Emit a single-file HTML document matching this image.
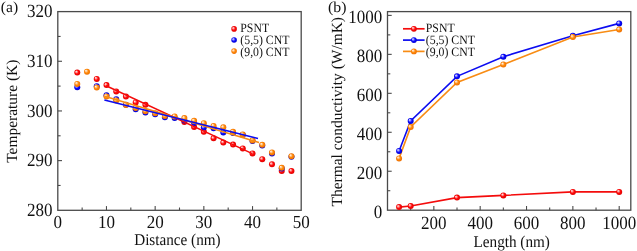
<!DOCTYPE html>
<html><head><meta charset="utf-8"><style>
html,body{margin:0;padding:0;background:#fff;width:637px;height:251px;overflow:hidden}
svg{display:block;will-change:transform}
text{font-family:"Liberation Serif", serif;fill:#111;text-rendering:geometricPrecision}
</style></head><body>
<svg width="637" height="251" viewBox="0 0 637 251">
<defs>
<radialGradient id="gr" cx="0.5" cy="0.5" r="0.55" fx="0.3" fy="0.3"><stop offset="0" stop-color="#ffffff"/><stop offset="0.3" stop-color="#ff8080"/><stop offset="0.55" stop-color="#ff0a0a"/><stop offset="1" stop-color="#d80000"/></radialGradient>
<radialGradient id="gb" cx="0.5" cy="0.5" r="0.55" fx="0.3" fy="0.3"><stop offset="0" stop-color="#ffffff"/><stop offset="0.3" stop-color="#8080ff"/><stop offset="0.55" stop-color="#0a0aff"/><stop offset="1" stop-color="#0000c8"/></radialGradient>
<radialGradient id="go" cx="0.5" cy="0.5" r="0.55" fx="0.3" fy="0.3"><stop offset="0" stop-color="#ffffff"/><stop offset="0.3" stop-color="#ffc080"/><stop offset="0.55" stop-color="#ff8a08"/><stop offset="1" stop-color="#ea6a00"/></radialGradient>
</defs>
<line x1="82.14" y1="210.3" x2="82.14" y2="207.5" stroke="#4a4a4a" stroke-width="1.1"/>
<line x1="106.48" y1="210.3" x2="106.48" y2="206.1" stroke="#4a4a4a" stroke-width="1.1"/>
<line x1="130.82" y1="210.3" x2="130.82" y2="207.5" stroke="#4a4a4a" stroke-width="1.1"/>
<line x1="155.16" y1="210.3" x2="155.16" y2="206.1" stroke="#4a4a4a" stroke-width="1.1"/>
<line x1="179.5" y1="210.3" x2="179.5" y2="207.5" stroke="#4a4a4a" stroke-width="1.1"/>
<line x1="203.84" y1="210.3" x2="203.84" y2="206.1" stroke="#4a4a4a" stroke-width="1.1"/>
<line x1="228.18" y1="210.3" x2="228.18" y2="207.5" stroke="#4a4a4a" stroke-width="1.1"/>
<line x1="252.52" y1="210.3" x2="252.52" y2="206.1" stroke="#4a4a4a" stroke-width="1.1"/>
<line x1="276.86" y1="210.3" x2="276.86" y2="207.5" stroke="#4a4a4a" stroke-width="1.1"/>
<line x1="57.8" y1="185.46" x2="60.6" y2="185.46" stroke="#4a4a4a" stroke-width="1.1"/>
<line x1="57.8" y1="160.62" x2="62" y2="160.62" stroke="#4a4a4a" stroke-width="1.1"/>
<line x1="57.8" y1="135.79" x2="60.6" y2="135.79" stroke="#4a4a4a" stroke-width="1.1"/>
<line x1="57.8" y1="110.95" x2="62" y2="110.95" stroke="#4a4a4a" stroke-width="1.1"/>
<line x1="57.8" y1="86.11" x2="60.6" y2="86.11" stroke="#4a4a4a" stroke-width="1.1"/>
<line x1="57.8" y1="61.27" x2="62" y2="61.27" stroke="#4a4a4a" stroke-width="1.1"/>
<line x1="57.8" y1="36.44" x2="60.6" y2="36.44" stroke="#4a4a4a" stroke-width="1.1"/>
<rect x="57.8" y="11.6" width="243.4" height="198.7" fill="none" stroke="#4a4a4a" stroke-width="1.3"/>
<text transform="translate(57.8 228) scale(1 1.08)" font-size="17" text-anchor="middle">0</text>
<text transform="translate(106.48 228) scale(1 1.08)" font-size="17" text-anchor="middle">10</text>
<text transform="translate(155.16 228) scale(1 1.08)" font-size="17" text-anchor="middle">20</text>
<text transform="translate(203.84 228) scale(1 1.08)" font-size="17" text-anchor="middle">30</text>
<text transform="translate(252.52 228) scale(1 1.08)" font-size="17" text-anchor="middle">40</text>
<text transform="translate(301.2 228) scale(1 1.08)" font-size="17" text-anchor="middle">50</text>
<text transform="translate(52.6 216.1) scale(1 1.1)" font-size="17" text-anchor="end">280</text>
<text transform="translate(52.6 166.43) scale(1 1.1)" font-size="17" text-anchor="end">290</text>
<text transform="translate(52.6 116.75) scale(1 1.1)" font-size="17" text-anchor="end">300</text>
<text transform="translate(52.6 67.07) scale(1 1.1)" font-size="17" text-anchor="end">310</text>
<text transform="translate(52.6 17.4) scale(1 1.1)" font-size="17" text-anchor="end">320</text>
<text transform="translate(177.4 245) scale(1 1.08)" font-size="15.2" text-anchor="middle">Distance (nm)</text>
<text transform="translate(17 111.2) rotate(-90) scale(1.0 1)" font-size="15.45" text-anchor="middle">Temperature (K)</text>
<text transform="translate(0.8 12) scale(1 0.98)" font-size="15.6">(a)</text>
<circle cx="77.27" cy="72.6" r="3.0" fill="url(#gr)"/>
<circle cx="96.74" cy="78.9" r="3.0" fill="url(#gr)"/>
<circle cx="106.48" cy="85.1" r="3.0" fill="url(#gr)"/>
<circle cx="116.22" cy="91.4" r="3.0" fill="url(#gr)"/>
<circle cx="125.95" cy="96.6" r="3.0" fill="url(#gr)"/>
<circle cx="135.69" cy="102.4" r="3.0" fill="url(#gr)"/>
<circle cx="145.42" cy="104.8" r="3.0" fill="url(#gr)"/>
<circle cx="184.37" cy="121.9" r="3.0" fill="url(#gr)"/>
<circle cx="194.1" cy="126.9" r="3.0" fill="url(#gr)"/>
<circle cx="203.84" cy="131.8" r="3.0" fill="url(#gr)"/>
<circle cx="213.58" cy="138.3" r="3.0" fill="url(#gr)"/>
<circle cx="223.31" cy="142.6" r="3.0" fill="url(#gr)"/>
<circle cx="233.05" cy="144.6" r="3.0" fill="url(#gr)"/>
<circle cx="242.78" cy="148.4" r="3.0" fill="url(#gr)"/>
<circle cx="252.52" cy="153.4" r="3.0" fill="url(#gr)"/>
<circle cx="262.26" cy="159.2" r="3.0" fill="url(#gr)"/>
<circle cx="271.99" cy="164.3" r="3.0" fill="url(#gr)"/>
<circle cx="281.73" cy="171" r="3.0" fill="url(#gr)"/>
<circle cx="291.46" cy="171" r="3.0" fill="url(#gr)"/>
<circle cx="77.27" cy="87.3" r="3.0" fill="url(#gb)"/>
<circle cx="96.74" cy="86.2" r="3.0" fill="url(#gb)"/>
<circle cx="106.48" cy="95.3" r="3.0" fill="url(#gb)"/>
<circle cx="116.22" cy="99.2" r="3.0" fill="url(#gb)"/>
<circle cx="125.95" cy="104.8" r="3.0" fill="url(#gb)"/>
<circle cx="135.69" cy="109.2" r="3.0" fill="url(#gb)"/>
<circle cx="145.42" cy="112.4" r="3.0" fill="url(#gb)"/>
<circle cx="155.16" cy="114.3" r="3.0" fill="url(#gb)"/>
<circle cx="164.9" cy="117.3" r="3.0" fill="url(#gb)"/>
<circle cx="174.63" cy="118" r="3.0" fill="url(#gb)"/>
<circle cx="184.37" cy="120.5" r="3.0" fill="url(#gb)"/>
<circle cx="194.1" cy="123" r="3.0" fill="url(#gb)"/>
<circle cx="203.84" cy="127.5" r="3.0" fill="url(#gb)"/>
<circle cx="213.58" cy="128.3" r="3.0" fill="url(#gb)"/>
<circle cx="223.31" cy="132.4" r="3.0" fill="url(#gb)"/>
<circle cx="233.05" cy="133" r="3.0" fill="url(#gb)"/>
<circle cx="242.78" cy="135" r="3.0" fill="url(#gb)"/>
<circle cx="252.52" cy="141" r="3.0" fill="url(#gb)"/>
<circle cx="262.26" cy="145.4" r="3.0" fill="url(#gb)"/>
<circle cx="271.99" cy="153.5" r="3.0" fill="url(#gb)"/>
<circle cx="281.73" cy="168.4" r="3.0" fill="url(#gb)"/>
<circle cx="291.46" cy="156.8" r="3.0" fill="url(#gb)"/>
<circle cx="77.27" cy="83.9" r="3.0" fill="url(#go)"/>
<circle cx="87.01" cy="71.7" r="3.0" fill="url(#go)"/>
<circle cx="96.74" cy="87.5" r="3.0" fill="url(#go)"/>
<circle cx="106.48" cy="96.4" r="3.0" fill="url(#go)"/>
<circle cx="116.22" cy="100.4" r="3.0" fill="url(#go)"/>
<circle cx="125.95" cy="104.9" r="3.0" fill="url(#go)"/>
<circle cx="135.69" cy="108" r="3.0" fill="url(#go)"/>
<circle cx="145.42" cy="111.2" r="3.0" fill="url(#go)"/>
<circle cx="155.16" cy="113.2" r="3.0" fill="url(#go)"/>
<circle cx="164.9" cy="116" r="3.0" fill="url(#go)"/>
<circle cx="174.63" cy="116.4" r="3.0" fill="url(#go)"/>
<circle cx="184.37" cy="118.1" r="3.0" fill="url(#go)"/>
<circle cx="194.1" cy="120.8" r="3.0" fill="url(#go)"/>
<circle cx="203.84" cy="123.2" r="3.0" fill="url(#go)"/>
<circle cx="213.58" cy="126" r="3.0" fill="url(#go)"/>
<circle cx="223.31" cy="127.3" r="3.0" fill="url(#go)"/>
<circle cx="233.05" cy="131.8" r="3.0" fill="url(#go)"/>
<circle cx="242.78" cy="134.4" r="3.0" fill="url(#go)"/>
<circle cx="252.52" cy="140.4" r="3.0" fill="url(#go)"/>
<circle cx="262.26" cy="144.8" r="3.0" fill="url(#go)"/>
<circle cx="271.99" cy="152.4" r="3.0" fill="url(#go)"/>
<circle cx="281.73" cy="167.8" r="3.0" fill="url(#go)"/>
<circle cx="291.46" cy="156.2" r="3.0" fill="url(#go)"/>
<line x1="106.1" y1="85.7" x2="252.3" y2="153.6" stroke="#f40c0c" stroke-width="1.5"/>
<line x1="104.6" y1="96.3" x2="259" y2="142.5" stroke="#f88c14" stroke-width="1.5"/>
<line x1="104.4" y1="100.0" x2="258" y2="138.4" stroke="#0c0cf0" stroke-width="1.5"/>
<circle cx="234.1" cy="28.9" r="2.8" fill="url(#gr)"/>
<text transform="translate(240.3 32.1) scale(1 1.08)" font-size="11.8">PSNT</text>
<circle cx="234.1" cy="40" r="2.8" fill="url(#gb)"/>
<text transform="translate(240.3 43.8) scale(1 1.08)" font-size="11.8">(5,5) CNT</text>
<circle cx="234.1" cy="51.1" r="2.8" fill="url(#go)"/>
<text transform="translate(240.3 55.8) scale(1 1.08)" font-size="11.8">(9,0) CNT</text>
<line x1="410.67" y1="210.2" x2="410.67" y2="207.4" stroke="#4a4a4a" stroke-width="1.1"/>
<line x1="433.84" y1="210.2" x2="433.84" y2="206" stroke="#4a4a4a" stroke-width="1.1"/>
<line x1="457.01" y1="210.2" x2="457.01" y2="207.4" stroke="#4a4a4a" stroke-width="1.1"/>
<line x1="480.18" y1="210.2" x2="480.18" y2="206" stroke="#4a4a4a" stroke-width="1.1"/>
<line x1="503.35" y1="210.2" x2="503.35" y2="207.4" stroke="#4a4a4a" stroke-width="1.1"/>
<line x1="526.52" y1="210.2" x2="526.52" y2="206" stroke="#4a4a4a" stroke-width="1.1"/>
<line x1="549.69" y1="210.2" x2="549.69" y2="207.4" stroke="#4a4a4a" stroke-width="1.1"/>
<line x1="572.86" y1="210.2" x2="572.86" y2="206" stroke="#4a4a4a" stroke-width="1.1"/>
<line x1="596.03" y1="210.2" x2="596.03" y2="207.4" stroke="#4a4a4a" stroke-width="1.1"/>
<line x1="619.2" y1="210.2" x2="619.2" y2="206" stroke="#4a4a4a" stroke-width="1.1"/>
<line x1="387.5" y1="190.72" x2="390.3" y2="190.72" stroke="#4a4a4a" stroke-width="1.1"/>
<line x1="387.5" y1="171.24" x2="391.7" y2="171.24" stroke="#4a4a4a" stroke-width="1.1"/>
<line x1="387.5" y1="151.76" x2="390.3" y2="151.76" stroke="#4a4a4a" stroke-width="1.1"/>
<line x1="387.5" y1="132.28" x2="391.7" y2="132.28" stroke="#4a4a4a" stroke-width="1.1"/>
<line x1="387.5" y1="112.8" x2="390.3" y2="112.8" stroke="#4a4a4a" stroke-width="1.1"/>
<line x1="387.5" y1="93.32" x2="391.7" y2="93.32" stroke="#4a4a4a" stroke-width="1.1"/>
<line x1="387.5" y1="73.84" x2="390.3" y2="73.84" stroke="#4a4a4a" stroke-width="1.1"/>
<line x1="387.5" y1="54.36" x2="391.7" y2="54.36" stroke="#4a4a4a" stroke-width="1.1"/>
<line x1="387.5" y1="34.88" x2="390.3" y2="34.88" stroke="#4a4a4a" stroke-width="1.1"/>
<line x1="387.5" y1="15.4" x2="391.7" y2="15.4" stroke="#4a4a4a" stroke-width="1.1"/>
<rect x="387.5" y="11.6" width="243.3" height="198.6" fill="none" stroke="#4a4a4a" stroke-width="1.3"/>
<text transform="translate(433.84 228.9) scale(1 1.1)" font-size="17" text-anchor="middle">200</text>
<text transform="translate(480.18 228.9) scale(1 1.1)" font-size="17" text-anchor="middle">400</text>
<text transform="translate(526.52 228.9) scale(1 1.1)" font-size="17" text-anchor="middle">600</text>
<text transform="translate(572.86 228.9) scale(1 1.1)" font-size="17" text-anchor="middle">800</text>
<text transform="translate(619.2 228.9) scale(1 1.1)" font-size="17" text-anchor="middle">1000</text>
<text transform="translate(382.3 217.7) scale(1 1.1)" font-size="17" text-anchor="end">0</text>
<text transform="translate(382.3 178.74) scale(1 1.1)" font-size="17" text-anchor="end">200</text>
<text transform="translate(382.3 139.78) scale(1 1.1)" font-size="17" text-anchor="end">400</text>
<text transform="translate(382.3 100.82) scale(1 1.1)" font-size="17" text-anchor="end">600</text>
<text transform="translate(382.3 61.86) scale(1 1.1)" font-size="17" text-anchor="end">800</text>
<text transform="translate(382.3 22.9) scale(1 1.1)" font-size="17" text-anchor="end">1000</text>
<text transform="translate(511.7 246.8) scale(1 1.08)" font-size="15.2" text-anchor="middle">Length (nm)</text>
<text transform="translate(342.1 111.75) rotate(-90) scale(1.0 1)" font-size="15.45" text-anchor="middle">Thermal conductivity (W/mK)</text>
<text transform="translate(328 11.6) scale(1 0.95)" font-size="15.8">(b)</text>
<polyline points="399.08,207.08 410.67,206.01 457.01,197.6 503.35,195.4 572.86,191.89 619.2,191.89" fill="none" stroke="#f40c0c" stroke-width="1.6"/>
<polyline points="399.08,150.98 410.67,120.98 457.01,76.37 503.35,56.7 572.86,35.66 619.2,23.39" fill="none" stroke="#0c0cf0" stroke-width="1.6"/>
<polyline points="399.08,158.38 410.67,127.02 457.01,82.41 503.35,64.49 572.86,37.02 619.2,29.43" fill="none" stroke="#f88c14" stroke-width="1.6"/>
<circle cx="399.08" cy="207.08" r="3.0" fill="url(#gr)"/>
<circle cx="410.67" cy="206.01" r="3.0" fill="url(#gr)"/>
<circle cx="457.01" cy="197.6" r="3.0" fill="url(#gr)"/>
<circle cx="503.35" cy="195.4" r="3.0" fill="url(#gr)"/>
<circle cx="572.86" cy="191.89" r="3.0" fill="url(#gr)"/>
<circle cx="619.2" cy="191.89" r="3.0" fill="url(#gr)"/>
<circle cx="399.08" cy="150.98" r="3.0" fill="url(#gb)"/>
<circle cx="410.67" cy="120.98" r="3.0" fill="url(#gb)"/>
<circle cx="457.01" cy="76.37" r="3.0" fill="url(#gb)"/>
<circle cx="503.35" cy="56.7" r="3.0" fill="url(#gb)"/>
<circle cx="572.86" cy="35.66" r="3.0" fill="url(#gb)"/>
<circle cx="619.2" cy="23.39" r="3.0" fill="url(#gb)"/>
<circle cx="399.08" cy="158.38" r="3.0" fill="url(#go)"/>
<circle cx="410.67" cy="127.02" r="3.0" fill="url(#go)"/>
<circle cx="457.01" cy="82.41" r="3.0" fill="url(#go)"/>
<circle cx="503.35" cy="64.49" r="3.0" fill="url(#go)"/>
<circle cx="572.86" cy="37.02" r="3.0" fill="url(#go)"/>
<circle cx="619.2" cy="29.43" r="3.0" fill="url(#go)"/>
<line x1="403" y1="28.8" x2="424.6" y2="28.8" stroke="#f40c0c" stroke-width="1.7"/>
<circle cx="413.9" cy="28.8" r="2.9" fill="url(#gr)"/>
<text transform="translate(425.8 32.1) scale(1 1.08)" font-size="11.8">PSNT</text>
<line x1="403" y1="40.1" x2="424.6" y2="40.1" stroke="#0c0cf0" stroke-width="1.7"/>
<circle cx="413.9" cy="40.1" r="2.9" fill="url(#gb)"/>
<text transform="translate(425.8 43.8) scale(1 1.08)" font-size="11.8">(5,5) CNT</text>
<line x1="403" y1="51.4" x2="424.6" y2="51.4" stroke="#f88c14" stroke-width="1.7"/>
<circle cx="413.9" cy="51.4" r="2.9" fill="url(#go)"/>
<text transform="translate(425.8 55.8) scale(1 1.08)" font-size="11.8">(9,0) CNT</text>
</svg></body></html>
